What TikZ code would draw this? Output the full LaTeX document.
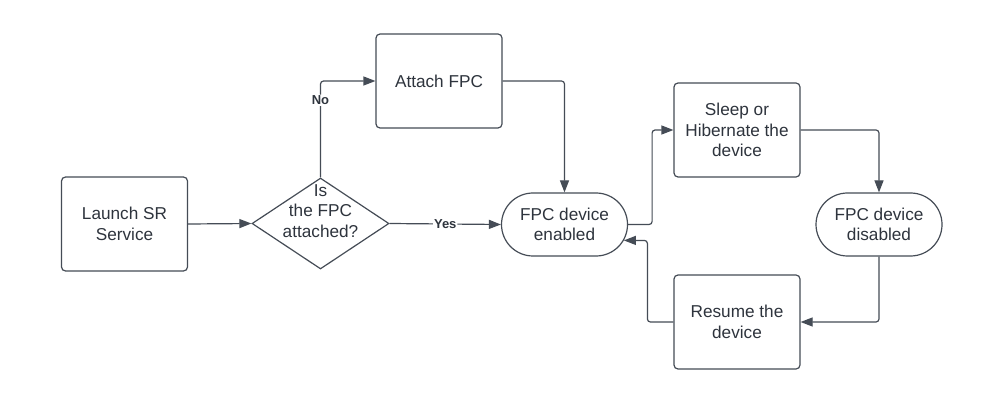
\documentclass[tikz,border=0pt]{standalone}
\usepackage{fontspec}
\setmainfont{Liberation Sans}
\usetikzlibrary{arrows.meta,shapes.geometric,shapes.misc}
\definecolor{linec}{HTML}{454C56}
\definecolor{textc}{HTML}{2E343D}
\tikzset{
  box/.style={draw=linec, line width=1.2pt, rounded corners=4pt, minimum width=126pt, minimum height=94pt, inner sep=0pt, align=center, text=textc, font=\fontsize{17.2}{20.5}\selectfont},
  pill/.style={draw=linec, line width=1.2pt, rounded rectangle, minimum width=126pt, minimum height=63pt, inner sep=0pt, align=center, text=textc, font=\fontsize{17.2}{20.5}\selectfont},
  decision/.style={draw=linec, line width=1.2pt, diamond, minimum width=137pt, minimum height=91pt, inner sep=0pt},
  txt/.style={align=center, text=textc, font=\fontsize{17.2}{20.5}\selectfont},
  arr/.style={draw=linec, line width=1.2pt, rounded corners=3pt, -{Triangle[length=12pt,width=9pt]}},
  lbl/.style={fill=white, inner sep=1pt, text=textc, font=\fontsize{13}{15}\selectfont\bfseries}
}
\begin{document}
\begin{tikzpicture}[x=1pt, y=-1pt]
  \fill[white] (0,0) rectangle (1003,403);
  \node[box] (launch) at (124.5,224) {Launch SR\\Service};
  \node[decision] (chk) at (320.5,223.5) {};
  \node[txt] (chktxt) at (320.5,211) {Is\\the FPC\\attached?};
  \node[box] (attach) at (439,81) {Attach FPC};
  \node[pill] (enabled) at (564.5,224.5) {FPC device\\enabled};
  \node[box] (sleep) at (737,130) {Sleep or\\Hibernate the\\device};
  \node[pill] (disabled) at (879,224.5) {FPC device\\disabled};
  \node[box] (resume) at (737,322) {Resume the\\device};

  \draw[arr] (launch.east) -- (chk.west);
  \draw[arr] (chk.north) |- node[lbl, pos=0.4] {No} (attach.west);
  \draw[arr] (chk.east) -- node[lbl] {Yes} (enabled.west);
  \draw[arr] (attach.east) -| (enabled.north);
  \draw[arr] (enabled.east) -- ++(24,0) |- (sleep.west);
  \draw[arr] (sleep.east) -| (disabled.north);
  \draw[arr] (disabled.south) |- (resume.east);
  \draw[arr] (resume.west) -- ++(-26,0) |- (enabled.-15);
\end{tikzpicture}
\end{document}
